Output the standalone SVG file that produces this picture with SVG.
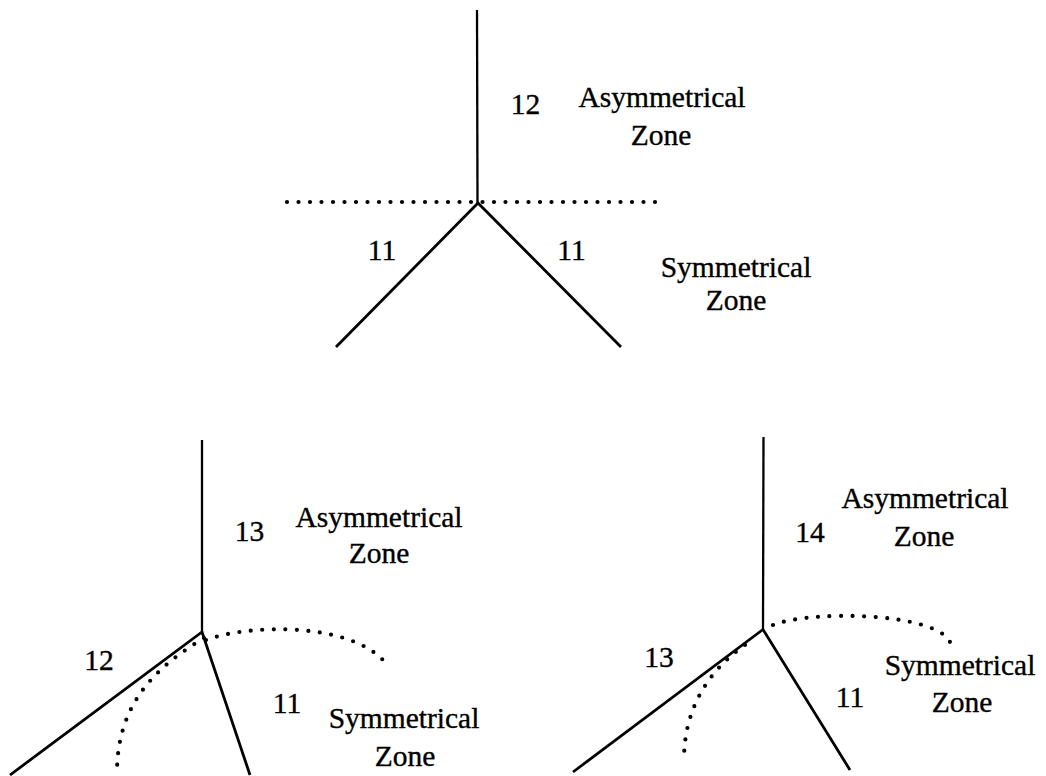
<svg xmlns="http://www.w3.org/2000/svg" width="1046" height="776" viewBox="0 0 1046 776">
<style>
.ln{stroke:#000;stroke-width:2.8;fill:none;stroke-linecap:butt}
.vl{stroke:#000;stroke-width:2.3;fill:none}
.dot{stroke:#000;stroke-width:4.2;fill:none;stroke-linecap:round;stroke-dasharray:0 11.5}
.lbl{font-family:'Liberation Serif','Times New Roman',serif;font-size:29.5px;fill:#000;stroke:#000;stroke-width:0.35;text-anchor:middle}
</style>
<rect width="1046" height="776" fill="#fff"/>
<g id="connectors">
  <g id="fig-top-lines">
    <line class="vl" x1="477" y1="10" x2="477.5" y2="203"/>
    <polyline class="ln" points="336,347 478,203 621,347"/>
    <line class="dot" x1="287" y1="202" x2="666" y2="202"/>
  </g>
  <g id="fig-left-lines">
    <line class="vl" x1="202" y1="440" x2="202" y2="632"/>
    <polyline class="ln" points="10,775 202,632 250,775"/>
    <path class="dot" d="M204,638 C160,665 117,700 117,773"/>
    <path class="dot" d="M206,640 C245,625 345,621 383,660"/>
  </g>
  <g id="fig-right-lines">
    <line class="vl" x1="763.5" y1="437" x2="763" y2="630"/>
    <polyline class="ln" points="573,772 763,629.5 850,770"/>
    <path class="dot" d="M745,645 C712,668 684,705 684,760"/>
    <path class="dot" d="M773,625 C810,610 935,612 950,642"/>
  </g>
</g>
<g id="fig-top" class="lbl">
  <text x="525.5" y="114">12</text>
  <text x="662" y="107">Asymmetrical</text>
  <text x="661" y="144.5">Zone</text>
  <text x="382" y="260">11</text>
  <text x="571.5" y="260">11</text>
  <text x="736" y="277">Symmetrical</text>
  <text x="736" y="310">Zone</text>
</g>
<g id="fig-left" class="lbl">
  <text x="249.5" y="541">13</text>
  <text x="379" y="527">Asymmetrical</text>
  <text x="379" y="563">Zone</text>
  <text x="99" y="670">12</text>
  <text x="287" y="712.5">11</text>
  <text x="404" y="728">Symmetrical</text>
  <text x="405" y="766">Zone</text>
</g>
<g id="fig-right" class="lbl">
  <text x="810" y="541.5">14</text>
  <text x="925" y="508">Asymmetrical</text>
  <text x="924" y="546">Zone</text>
  <text x="659" y="666.5">13</text>
  <text x="850" y="706.5">11</text>
  <text x="960" y="675">Symmetrical</text>
  <text x="962" y="711.5">Zone</text>
</g>
</svg>
